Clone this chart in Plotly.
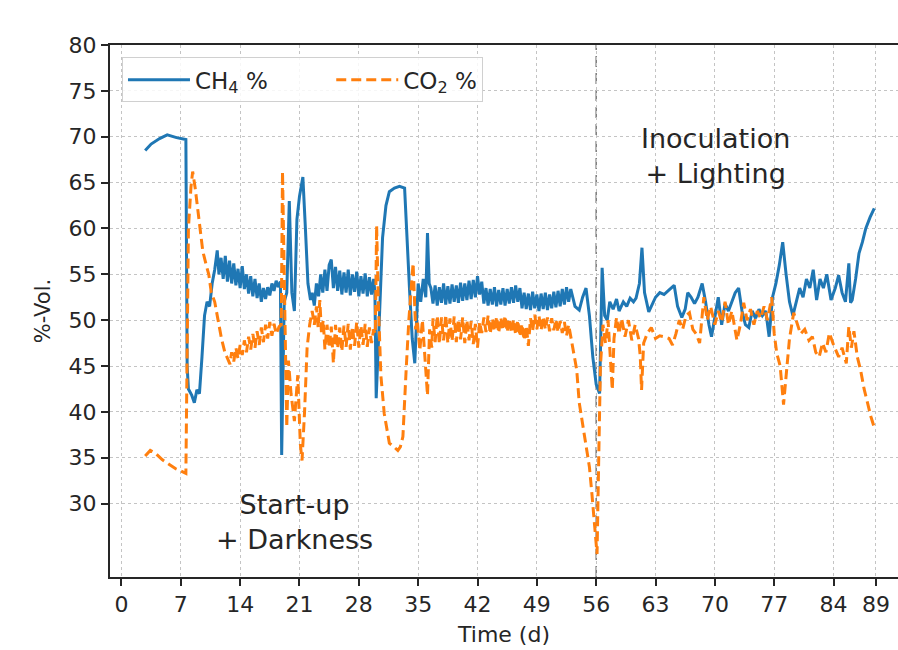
import plotly.graph_objects as go

# ---- measured gas composition, CH4 ----
ch4_day = [
    2.8, 3.5, 4.5, 5.4, 6.5, 7.6, 7.75, 7.9, 8.3, 8.6, 8.9, 9.2,
    9.5, 9.8, 10.1, 10.4, 10.7, 11.0, 11.3, 11.5,
    11.75, 12.0, 12.25, 12.5, 12.75, 13.0, 13.25, 13.5, 13.75, 14.0, 14.25, 14.5, 14.75,
    15.0, 15.25, 15.5, 15.75, 16.0, 16.25, 16.5, 16.75, 17.0, 17.25, 17.5, 17.75, 18.0, 18.25, 18.5, 18.75,
    18.9, 19.2, 19.5, 19.8, 20.1, 20.4, 20.7, 21.0, 21.4, 21.7, 22.0, 22.3,
    22.5, 22.75, 23.0, 23.25, 23.5, 23.75, 24.0, 24.25, 24.5, 24.75, 25.0, 25.25,
    25.5, 25.75, 26.0, 26.25, 26.5, 26.75, 27.0, 27.25, 27.5, 27.75, 28.0, 28.25,
    28.5, 28.75, 29.0, 29.25, 29.5, 29.75, 29.9,
    30.05, 30.4, 30.8, 31.2, 31.6, 32.2, 32.8, 33.4, 33.7, 34.0, 34.3, 34.6,
    35.0, 35.3, 35.6, 35.9, 36.1, 36.3,
    36.5, 36.75, 37.0, 37.25, 37.5, 37.75, 38.0, 38.25, 38.5, 38.75, 39.0, 39.25,
    39.5, 39.75, 40.0, 40.25, 40.5, 40.75, 41.0, 41.25, 41.5, 41.75, 42.0, 42.25,
    42.5, 42.75, 43.0, 43.25, 43.5, 43.75, 44.0, 44.25, 44.5, 44.75, 45.0, 45.25,
    45.5, 45.75, 46.0, 46.25, 46.5, 46.75, 47.0, 47.25, 47.5, 47.75, 48.0, 48.25,
    48.5, 48.75, 49.0, 49.25, 49.5, 49.75, 50.0, 50.25, 50.5, 50.75, 51.0, 51.25,
    51.5, 51.75, 52.0, 52.25, 52.5, 52.75, 53.0,
    53.5, 54.0, 54.4, 54.8, 55.2, 55.6, 56.0, 56.4, 56.55, 56.7, 57.0, 57.3,
    57.6, 58.0, 58.4, 58.7, 59.2, 59.6, 60.0, 60.4, 60.7, 61.1, 61.4, 61.7,
    62.2, 62.6, 63.0, 63.5, 64.0, 64.6, 65.2, 65.6, 66.1, 66.5, 66.8, 67.2,
    67.6, 68.0, 68.5, 68.9, 69.3, 69.6, 70.0, 70.4, 70.8, 71.2, 71.6, 72.0,
    72.4, 72.8, 73.2, 73.6, 74.0, 74.4, 74.8, 75.2, 75.6, 76.0, 76.4, 76.8,
    77.2, 77.6, 78.0, 78.4, 78.8, 79.2, 79.6, 80.0, 80.4, 80.8, 81.2, 81.6,
    82.0, 82.4, 82.8, 83.2, 83.7, 84.2, 84.6, 85.0, 85.4, 85.8, 86.0, 86.2,
    86.6, 87.0, 87.4, 87.8, 88.3, 88.8,
]
ch4_pct = [
    68.5, 69.2, 69.8, 70.2, 69.9, 69.7, 45.0, 42.5, 41.8, 41.0, 42.4, 42.0,
    46.0, 50.5, 52.0, 51.5, 54.0, 55.5, 57.6, 55.0,
    56.8, 54.5, 57.0, 54.2, 56.5, 54.0, 56.2, 53.8, 55.6, 53.5, 55.9, 53.4, 55.0,
    52.9, 54.8, 52.6, 54.5, 52.4, 54.0, 52.0, 53.5, 52.3, 53.6, 52.7, 54.0, 53.2, 54.3, 53.6, 54.2,
    35.3, 52.0, 53.0, 63.0, 53.0, 51.0, 61.0, 63.5, 65.6, 60.0, 54.0, 52.2,
    53.0, 51.6, 54.0, 52.6, 55.0, 53.0, 55.5, 53.2, 56.0, 56.6, 53.5, 55.8,
    53.2, 55.4, 52.8, 55.2, 53.0, 55.5, 52.7, 55.0, 53.1, 55.3, 52.6, 54.8,
    52.9, 55.1, 52.6, 54.7, 52.8, 54.5, 53.0,
    41.5, 50.0, 59.0, 62.5, 64.0, 64.4, 64.6, 64.4, 58.0, 53.0, 48.0, 45.3,
    54.0, 52.0, 54.5, 52.5, 59.5, 54.0,
    53.5, 51.8, 53.8, 51.6, 53.6, 51.9, 54.0, 51.7, 53.7, 51.8, 53.9, 52.0,
    53.8, 51.9, 54.1, 52.1, 54.0, 52.2, 54.3, 52.3, 54.4, 52.5, 54.8, 52.8,
    54.2, 51.8, 53.5, 51.6, 53.4, 51.7, 53.6, 51.5, 53.3, 51.7, 53.5, 51.6,
    53.4, 51.8, 53.6, 51.9, 53.8, 52.0, 53.5, 51.3, 53.0, 51.2, 52.9, 51.1,
    53.1, 51.3, 52.8, 51.0, 52.9, 51.2, 53.0, 51.1, 52.8, 51.3, 53.1, 51.4,
    53.2, 51.5, 53.4, 51.7, 53.6, 52.0, 53.4,
    51.5, 51.1, 52.5, 53.5, 50.5, 46.0, 43.0, 42.0, 50.0, 55.7, 50.5, 50.0,
    52.0, 51.2, 52.3, 51.0, 52.0, 51.5, 52.4, 52.0, 52.4, 54.0, 57.9, 53.0,
    50.9, 51.8, 52.5, 53.0, 52.8, 53.3, 53.8, 51.5, 50.3, 51.2, 53.0, 52.5,
    51.8, 52.5, 54.0, 52.0, 49.5, 48.2, 50.5, 52.5, 49.5, 51.8, 51.0, 52.0,
    53.0, 53.5, 51.0, 49.5, 49.2, 51.0, 50.2, 51.2, 50.5, 51.0, 48.2, 52.5,
    54.0, 56.0, 58.5, 55.0, 52.0, 50.5, 52.0, 53.5, 52.5, 54.5, 53.5, 55.5,
    52.2, 54.5, 53.5, 55.0, 52.2, 53.5, 54.9, 53.0, 52.0, 56.2, 51.9, 52.2,
    54.5, 57.3, 58.5, 60.0, 61.2, 62.2,
]

# ---- measured gas composition, CO2 ----
co2_day = [
    2.8, 3.4, 4.0, 4.8, 5.6, 6.4, 7.6, 7.75, 7.9, 8.2, 8.4, 8.7,
    9.0, 9.3, 9.6, 10.0, 10.3, 10.6, 11.0, 11.4, 11.8, 12.2, 12.5, 12.8,
    13.0, 13.25, 13.5, 13.75, 14.0, 14.25, 14.5, 14.75, 15.0, 15.25, 15.5, 15.75,
    16.0, 16.25, 16.5, 16.75, 17.0, 17.25, 17.5, 17.75, 18.0, 18.25, 18.6,
    18.85, 19.0, 19.2, 19.5, 19.7, 20.0, 20.4, 20.8, 21.1, 21.3, 21.6, 21.9,
    22.2, 22.5, 22.75, 23.0, 23.2, 23.4, 23.6, 23.8, 24.0, 24.25, 24.5, 24.75,
    25.0, 25.25, 25.5, 25.75, 26.0, 26.25, 26.5, 26.75, 27.0, 27.25, 27.5, 27.75,
    28.0, 28.25, 28.5, 28.75, 29.0, 29.25, 29.5, 29.75, 29.95,
    30.1, 30.3, 30.6, 31.0, 31.6, 32.0, 32.6, 32.9, 33.2, 33.6, 33.9, 34.4,
    34.7, 34.9, 35.2, 35.5, 35.8, 36.1, 36.35, 36.6,
    36.75, 37.0, 37.25, 37.5, 37.75, 38.0, 38.25, 38.5, 38.75, 39.0, 39.25, 39.5,
    39.75, 40.0, 40.25, 40.5, 40.75, 41.0, 41.25, 41.5, 41.75, 42.0, 42.25, 42.5,
    42.75, 43.0, 43.25, 43.5, 43.75, 44.0, 44.25, 44.5, 44.75, 45.0, 45.25, 45.5,
    45.75, 46.0, 46.25, 46.5, 46.75, 47.0, 47.25, 47.5, 47.75, 48.0, 48.25, 48.5,
    48.75, 49.0, 49.25, 49.5, 49.75, 50.0, 50.25, 50.5, 50.75, 51.0, 51.25, 51.5,
    51.75, 52.0, 52.25, 52.5, 52.75, 53.0, 53.3, 53.7, 54.0, 54.4, 54.8, 55.2,
    55.5, 55.8, 56.1, 56.3, 56.5, 56.8, 57.1, 57.4, 57.7, 57.9, 58.1, 58.4,
    58.7, 59.0, 59.4, 59.8, 60.2, 60.6, 61.0, 61.2, 61.35, 61.6, 62.0, 62.5,
    63.0, 63.5, 64.0, 64.6, 65.0, 65.4, 65.8, 66.2, 66.6, 67.0, 67.4, 67.8,
    68.2, 68.7, 69.1, 69.5, 70.0, 70.4, 70.8, 71.2, 71.6, 72.0, 72.6, 73.0,
    73.4, 73.8, 74.2, 74.6, 75.0, 75.4, 75.8, 76.2, 76.7, 77.0, 77.3, 77.7,
    78.1, 78.4, 78.8, 79.3, 79.7, 80.1, 80.6, 81.1, 81.5, 81.9, 82.3, 82.7,
    83.1, 83.5, 84.0, 84.6, 85.0, 85.5, 85.8, 86.1, 86.4, 86.8, 87.2, 87.6,
    88.0, 88.4, 88.9,
]
co2_pct = [
    35.2, 35.8, 35.5, 34.8, 34.3, 33.8, 33.3, 45.0, 60.0, 64.5, 66.2, 64.4,
    62.0, 59.5, 57.5, 56.0, 55.0, 53.0, 52.0, 50.0, 48.0, 46.5, 45.8, 45.2,
    46.5, 45.5, 47.0, 45.8, 47.3, 46.2, 47.8, 46.5, 48.2, 46.8, 48.5, 47.0,
    48.8, 47.3, 49.2, 47.6, 49.5, 48.0, 49.8, 48.3, 49.6, 48.5, 49.3,
    49.5, 66.2, 53.0, 38.3, 45.6, 42.0, 39.0, 44.0, 36.5, 34.7, 40.0, 47.0,
    49.5, 51.0, 49.5, 51.5, 49.2, 52.2, 48.5, 50.0, 46.8, 49.5, 47.0, 49.3,
    45.3, 49.5, 46.9, 49.2, 46.6, 49.4, 47.1, 49.6, 46.8, 49.3, 47.2, 49.8,
    47.0, 49.4, 47.3, 49.6, 47.1, 49.2, 47.5, 49.0, 48.5,
    60.3, 52.0, 44.0, 39.8, 36.6, 36.3, 35.8, 36.2, 37.3, 44.9, 50.0, 56.2,
    49.0, 50.0, 46.7, 50.0, 46.0, 41.8, 49.0, 47.0,
    50.2, 47.6, 50.5, 47.4, 50.3, 47.8, 50.6, 47.5, 50.2, 47.7, 50.4, 47.6,
    50.1, 47.9, 50.3, 47.5, 50.0, 47.8, 49.9, 47.4, 49.6, 47.0, 49.8, 48.6,
    50.3, 48.7, 50.5, 48.5, 50.2, 48.8, 50.4, 48.6, 50.3, 48.9, 50.5, 48.7,
    50.2, 48.6, 50.1, 48.4, 50.0, 48.2, 49.6, 47.8, 49.4, 47.2, 50.2, 48.8,
    50.6, 49.0, 50.5, 48.9, 50.4, 49.0, 50.3, 48.8, 50.2, 48.9, 50.1, 48.7,
    49.9, 48.6, 49.8, 48.3, 49.5, 48.2, 47.0, 44.6, 41.0, 38.5, 36.5, 34.0,
    31.0, 27.5, 24.5, 35.0, 45.0, 49.5, 47.5, 50.0, 46.0, 42.4, 48.0, 50.3,
    48.5, 50.2, 48.2, 50.0, 47.8, 49.5, 48.0, 46.0, 42.4, 47.5, 48.5, 49.2,
    48.0, 48.3, 48.2, 48.0, 47.3, 48.5, 50.0, 49.0, 50.5, 50.8, 49.0, 48.5,
    47.5, 52.5, 50.0, 51.5, 49.5, 51.0, 49.8, 52.0, 49.5, 51.0, 47.8, 49.5,
    51.9, 50.0, 51.2, 49.5, 51.0, 50.2, 51.5, 50.0, 52.5, 48.5, 46.4, 45.0,
    40.8, 44.0, 48.0, 50.8, 49.5, 48.5, 49.0, 47.8, 48.2, 46.5, 46.0, 47.5,
    46.5, 48.6, 47.3, 46.0, 47.0, 45.3, 49.3, 47.0, 48.8, 46.0, 44.5, 42.5,
    41.0, 39.5, 38.0,
]

x_ticks = [0, 7, 14, 21, 28, 35, 42, 49, 56, 63, 70, 77, 84, 89]
y_ticks = [30, 35, 40, 45, 50, 55, 60, 65, 70, 75, 80]
phase_change_day = 56

FONT = "DejaVu Sans"
INK = "#262626"
GRID = "#c4c4c4"
PAD = "\u00a0" * 8  # keeps the two legend entries apart

fig = go.Figure()
fig.add_trace(go.Scatter(
    x=ch4_day, y=ch4_pct, mode="lines", name="CH<sub>4</sub> %" + PAD,
    line=dict(color="#1f77b4", width=3),
))
fig.add_trace(go.Scatter(
    x=co2_day, y=co2_pct, mode="lines", name="CO<sub>2</sub> %",
    line=dict(color="#ff7f0e", width=3, dash="10px,5px"),
))

# phase boundary
fig.add_shape(
    type="line", xref="x", yref="paper",
    x0=phase_change_day, x1=phase_change_day, y0=0, y1=1,
    line=dict(color="#7a7a7a", width=1.5, dash="11px,6px"),
    layer="between",
)

fig.add_annotation(
    x=70.1, y=67.9, text="Inoculation<br>+ Lighting", showarrow=False,
    font=dict(family=FONT, size=27, color=INK), align="center",
)
fig.add_annotation(
    x=20.4, y=28.0, text="Start-up<br>+ Darkness", showarrow=False,
    font=dict(family=FONT, size=27, color=INK), align="center",
)

axis_common = dict(
    ticks="outside", ticklen=7, tickwidth=1.5, tickcolor=INK,
    showline=True, linecolor=INK, linewidth=2,
    showgrid=True, gridcolor=GRID, griddash="dot", gridwidth=1,
    zeroline=False,
    tickfont=dict(family=FONT, size=22, color=INK),
)

fig.update_xaxes(
    range=[-1.35, 91.6], tickmode="array", tickvals=x_ticks,
    ticktext=[str(t) for t in x_ticks], mirror=True,
    title=dict(text="Time (d)", font=dict(family=FONT, size=22, color=INK), standoff=10),
    **axis_common,
)
fig.update_yaxes(
    range=[22, 80], tickmode="array", tickvals=y_ticks,
    ticktext=[str(t) for t in y_ticks], mirror=False,
    title=dict(text="%-Vol.", font=dict(family=FONT, size=21, color=INK), standoff=12),
    **axis_common,
)

fig.update_layout(
    width=898, height=650,
    margin=dict(l=110, r=0, t=45, b=73),
    paper_bgcolor="white", plot_bgcolor="white",
    font=dict(family=FONT, color=INK),
    showlegend=True,
    legend=dict(
        orientation="h", x=0.0152, y=0.977, xanchor="left", yanchor="top",
        bgcolor="rgba(255,255,255,0.85)", bordercolor="#d0d0d0", borderwidth=1,
        font=dict(family=FONT, size=23, color=INK),
        itemwidth=62,
    ),
)

fig.write_html("out.html")
